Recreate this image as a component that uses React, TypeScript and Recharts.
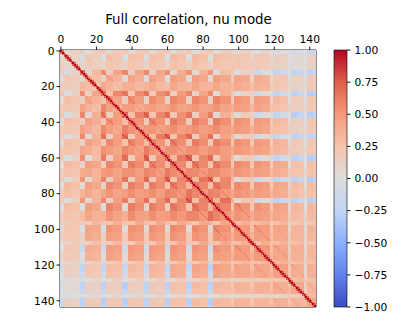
import { ScatterChart, Scatter, BarChart, Bar, XAxis, YAxis } from "recharts"

const font = "DejaVu Sans"

// first index of each mode group, and how many rows its opening stripe has
const groupStarts = [0, 11, 23, 35, 47, 59, 71, 83, 96, 107, 118, 128, 137]
const stripeWidths = [2, 3, 3, 3, 3, 3, 3, 3, 2, 2, 2, 2, 2]
const matrixSize = 144
const axisTicks = [0, 20, 40, 60, 80, 100, 120, 140]
const barTicks = [-1, -0.75, -0.5, -0.25, 0, 0.25, 0.5, 0.75, 1]

// coolwarm, evenly spaced from -1 to 1
const coolwarm = [
  [59, 76, 192], [98, 130, 234], [141, 176, 254], [192, 212, 245], [221, 221, 221],
  [245, 196, 173], [244, 154, 123], [222, 96, 77], [180, 4, 38],
]

// body rows against body columns, upper triangle
const bodyBody = [
  [.1, .16, .22, .24, .24, .26, .26, .25, .22, .2, .13, .05, .12],
  [.27, .33, .36, .37, .4, .4, .4, .4, .36, .22, .12, .18],
  [.43, .46, .47, .5, .5, .5, .48, .44, .27, .15, .2],
  [.5, .5, .53, .53, .53, .5, .46, .28, .14, .2],
  [.5, .53, .53, .53, .5, .46, .32, .18, .2],
  [.55, .55, .55, .52, .48, .38, .25, .25],
  [.56, .56, .52, .48, .4, .28, .27],
  [.57, .52, .48, .42, .3, .3],
  [.5, .48, .42, .33, .33],
  [.5, .42, .36, .33],
  [.46, .38, .36],
  [.42, .33],
  [.42],
]

// stripe rows against body columns, full table
const stripeBody = [
  [.12, .1, .12, .12, .12, .1, .1, .1, .1, .05, -.02, -.08, -.15],
  [.02, .2, .3, .3, .28, .25, .2, .15, .05, -.08, -.18, -.22, -.22],
  [.05, .28, .42, .4, .38, .33, .28, .2, .05, -.05, -.17, -.22, -.25],
  [.05, .22, .32, .45, .42, .38, .32, .22, .12, -.05, -.15, -.25, -.25],
  [.05, .2, .3, .35, .47, .42, .35, .28, .12, -.03, -.15, -.22, -.22],
  [.05, .15, .3, .35, .38, .48, .42, .33, .12, -.03, -.18, -.22, -.25],
  [.08, .2, .3, .35, .38, .42, .5, .42, .12, -.03, -.18, -.22, -.25],
  [.08, .2, .3, .35, .38, .42, .45, .52, .15, -.05, -.2, -.22, -.25],
  [.2, .25, .3, .32, .32, .33, .33, .33, .33, .32, .3, .24, .25],
  [.14, .2, .25, .28, .3, .32, .32, .32, .32, .33, .32, .28, .25],
  [.06, .12, .18, .2, .22, .25, .25, .28, .28, .3, .32, .28, .27],
  [0, .05, .08, .1, .12, .12, .15, .15, .15, .18, .25, .3, .27],
  [-.02, .02, .03, .03, .05, .05, .05, .05, .08, .1, .1, .18, .32],
]

// stripe rows against stripe columns, upper triangle
const stripeStripe = [
  [.5, .1, .2, .2, .2, .2, .2, .2, .1, .05, 0, -.02, -.02],
  [.6, .45, .5, .5, .48, .45, .45, .15, .08, 0, -.05, -.05],
  [.6, .55, .58, .55, .52, .5, .2, .1, .03, -.03, -.05],
  [.65, .62, .6, .58, .55, .22, .12, .05, 0, -.05],
  [.65, .65, .62, .6, .25, .15, .08, 0, -.05],
  [.65, .65, .62, .25, .15, .08, .02, -.03],
  [.65, .65, .27, .18, .1, .03, -.02],
  [.65, .28, .2, .12, .05, 0],
  [.5, .2, .15, .1, .05],
  [.5, .2, .15, .08],
  [.5, .18, .12],
  [.5, .15],
  [.5],
]

// step inside a group block: stripe, early body, late body
const blockShift = [
  [.08, -.17, .16],
  [-.17, .09, .02],
  [.16, .02, -.06],
]
const groupContrast = [.5, .9, 1, 1, 1, 1, 1, 1, .5, .5, .4, .3, .3]
const earlyBodyRows = 4

// faint ridges between the same position in neighbouring groups
const ridgeBoost = [0, .1, .04]
const besideDiagonal = .72

const groupOf = (i: number) => {
  let g = 0
  while (g + 1 < groupStarts.length && groupStarts[g + 1] <= i) g++
  return g
}

const partOf = (i: number, g: number) => {
  const p = i - groupStarts[g]
  if (p < stripeWidths[g]) return 0
  return p < stripeWidths[g] + earlyBodyRows ? 1 : 2
}

const tableValue = (gi: number, gj: number, pi: number, pj: number) => {
  if (pi === 0 && pj === 0) return gi <= gj ? stripeStripe[gi][gj - gi] : stripeStripe[gj][gi - gj]
  if (pi === 0) return stripeBody[gi][gj]
  if (pj === 0) return stripeBody[gj][gi]
  return gi <= gj ? bodyBody[gi][gj - gi] : bodyBody[gj][gi - gj]
}

const cellValue = (i: number, j: number) => {
  if (i === j) return 1
  if (Math.abs(i - j) === 1) return besideDiagonal
  const gi = groupOf(i)
  const gj = groupOf(j)
  const pi = partOf(i, gi)
  const pj = partOf(j, gj)
  let v = tableValue(gi, gj, pi, pj) + blockShift[pi][pj] * groupContrast[gi] * groupContrast[gj]
  const gap = Math.abs(gi - gj)
  if (gap < ridgeBoost.length && i - groupStarts[gi] === j - groupStarts[gj]) v += ridgeBoost[gap]
  return v
}

const valueColor = (v: number) => {
  const t = ((v + 1) / 2) * (coolwarm.length - 1)
  const k = Math.min(Math.floor(t), coolwarm.length - 2)
  const f = t - k
  const c = coolwarm[k].map((a, n) => Math.round(a + (coolwarm[k + 1][n] - a) * f))
  return `rgb(${c[0]},${c[1]},${c[2]})`
}

const cells: { x: number; y: number; v: number }[] = []
for (let j = 0; j < matrixSize; j++) {
  for (let i = 0; i < matrixSize; i++) {
    cells.push({ x: i, y: j, v: cellValue(i, j) })
  }
}

const CellShape = (props: any) => (
  <rect
    x={props.cx - 0.9}
    y={props.cy - 0.9}
    width={1.8}
    height={1.8}
    fill={valueColor(props.payload.v)}
    shapeRendering="crispEdges"
  />
)

const tickStyle = { fontFamily: font, fontSize: 10.7, fill: "#000" }
const line = { stroke: "#000", strokeWidth: 0.9 }
const barData = [{ name: "scale", range: [-1, 1] }]
const formatBarTick = (v: number) => (v < 0 ? "\u2212" : "") + Math.abs(v).toFixed(2)

export default function App() {
  return (
    <div style={{ position: "absolute", left: 0, top: 0, width: 407, height: 326, background: "#fff" }}>
      <style>{`.recharts-scatter { filter: blur(0.7px); }`}</style>
      <div
        style={{
          position: "absolute",
          left: 60,
          width: 257,
          top: 12,
          textAlign: "center",
          fontFamily: font,
          fontSize: 13.4,
          lineHeight: "16px",
          whiteSpace: "nowrap",
        }}
      >
        Full correlation, nu mode
      </div>
      <div style={{ position: "absolute", left: 0, top: 0 }}>
        <ScatterChart width={330} height={326} margin={{ top: 20, right: 13, bottom: 9, left: 30 }}>
          <XAxis
            xAxisId="top"
            orientation="top"
            type="number"
            dataKey="x"
            domain={[-0.5, 143.5]}
            ticks={axisTicks}
            height={30}
            tick={tickStyle}
            tickLine={line}
            tickSize={3.5}
            tickMargin={4}
            axisLine={line}
            allowDataOverflow
          />
          <XAxis
            xAxisId="bottom"
            orientation="bottom"
            type="number"
            dataKey="x"
            domain={[-0.5, 143.5]}
            ticks={axisTicks}
            height={10}
            tick={false}
            tickLine={line}
            tickSize={3.5}
            axisLine={line}
            allowDataOverflow
          />
          <YAxis
            yAxisId="left"
            type="number"
            dataKey="y"
            reversed
            domain={[-0.5, 143.5]}
            ticks={axisTicks}
            width={30}
            tick={tickStyle}
            tickLine={line}
            tickSize={3.5}
            axisLine={line}
            allowDataOverflow
          />
          <YAxis
            yAxisId="right"
            orientation="right"
            type="number"
            dataKey="y"
            reversed
            domain={[-0.5, 143.5]}
            width={1}
            tick={false}
            tickLine={false}
            axisLine={line}
            allowDataOverflow
          />
          <Scatter
            data={cells}
            xAxisId="top"
            yAxisId="left"
            shape={CellShape}
            isAnimationActive={false}
          />
        </ScatterChart>
      </div>
      <div style={{ position: "absolute", left: 330, top: 0 }}>
        <BarChart width={77} height={326} data={barData} margin={{ top: 50, right: 0, bottom: 19, left: 4 }} barCategoryGap={0}>
          <defs>
            <linearGradient id="coolwarmBar" x1="0" y1="1" x2="0" y2="0">
              {coolwarm.map((c, n) => (
                <stop key={n} offset={n / (coolwarm.length - 1)} stopColor={`rgb(${c[0]},${c[1]},${c[2]})`} />
              ))}
            </linearGradient>
          </defs>
          <XAxis dataKey="name" hide />
          <YAxis
            orientation="right"
            type="number"
            domain={[-1, 1]}
            ticks={barTicks}
            width={60}
            tick={tickStyle}
            tickLine={line}
            tickSize={3.5}
            tickMargin={4}
            axisLine={false}
            tickFormatter={formatBarTick}
          />
          <Bar dataKey="range" fill="url(#coolwarmBar)" stroke="#000" strokeWidth={0.6} isAnimationActive={false} />
        </BarChart>
      </div>
    </div>
  )
}
